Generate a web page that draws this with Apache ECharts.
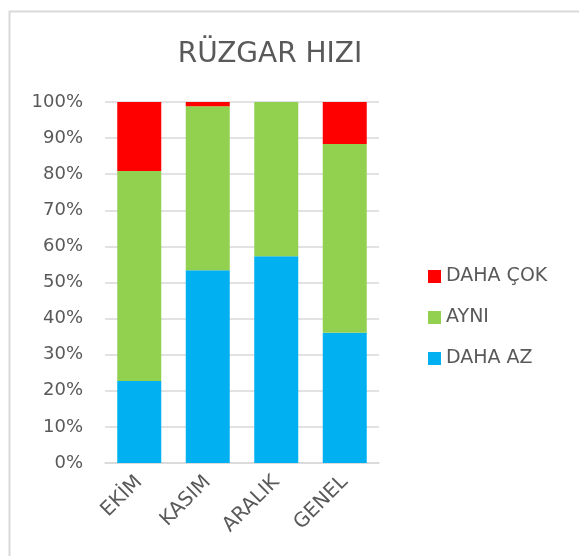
<!DOCTYPE html>
<html>
<head>
<meta charset="utf-8">
<script src="https://cdn.jsdelivr.net/npm/echarts@6/dist/echarts.min.js"></script>
<style>
  html, body { margin: 0; padding: 0; background: #fff; }
  #chart { width: 579px; height: 556px; }
</style>
</head>
<body>
<div id="chart"></div>
<script>
// aylar
var categories = ['EKİM', 'KASIM', 'ARALIK', 'GENEL'];
// yüzdeler (%)
var dahaAz = [22.7, 53.4, 57.3, 36.1];
var ayni = [58.2, 45.4, 42.7, 52.3];
var dahaCok = [19.1, 1.2, 0, 11.6];
var legendNames = ['DAHA ÇOK', 'AYNI', 'DAHA AZ'];

var textColor = '#595959';
var font = 'DejaVu Sans';

var myChart = echarts.init(document.getElementById('chart'));
myChart.setOption({
    animation: false,
    graphic: [{
        type: 'rect',
        left: 7,
        top: 9,
        shape: {width: 571, height: 600},
        style: {fill: 'none', stroke: '#d9d9d9', lineWidth: 2}
    }],
    title: {
        text: 'RÜZGAR HIZI',
        left: 265,
        textAlign: 'center',
        top: 36,
        textStyle: {fontFamily: font, fontSize: 28, fontWeight: 'normal', color: textColor}
    },
    legend: {
        orient: 'vertical',
        left: 423,
        top: 262,
        itemWidth: 13,
        itemHeight: 13,
        itemGap: 22,
        icon: 'rect',
        data: legendNames,
        textStyle: {fontFamily: font, fontSize: 19, color: textColor}
    },
    grid: {left: 105, right: 200, top: 102, bottom: 93},
    xAxis: {
        type: 'category',
        data: categories,
        axisTick: {show: false},
        axisLine: {lineStyle: {color: '#d9d9d9', width: 1.5}},
        axisLabel: {rotate: 45, margin: 16, fontFamily: font, fontSize: 20, color: textColor}
    },
    yAxis: {
        type: 'value',
        min: 0,
        max: 100,
        interval: 10,
        axisLine: {show: false},
        axisTick: {show: false},
        splitLine: {lineStyle: {color: '#d9d9d9', width: 1.5}},
        axisLabel: {formatter: '{value}%', margin: 22, fontFamily: font, fontSize: 18, color: textColor}
    },
    series: [
        {name: 'DAHA AZ', type: 'bar', stack: 'a', barWidth: 44, data: dahaAz, itemStyle: {color: '#00B0F0'}},
        {name: 'AYNI', type: 'bar', stack: 'a', barWidth: 44, data: ayni, itemStyle: {color: '#92D050'}},
        {name: 'DAHA ÇOK', type: 'bar', stack: 'a', barWidth: 44, data: dahaCok, itemStyle: {color: '#FF0000'}}
    ]
});
</script>
</body>
</html>
